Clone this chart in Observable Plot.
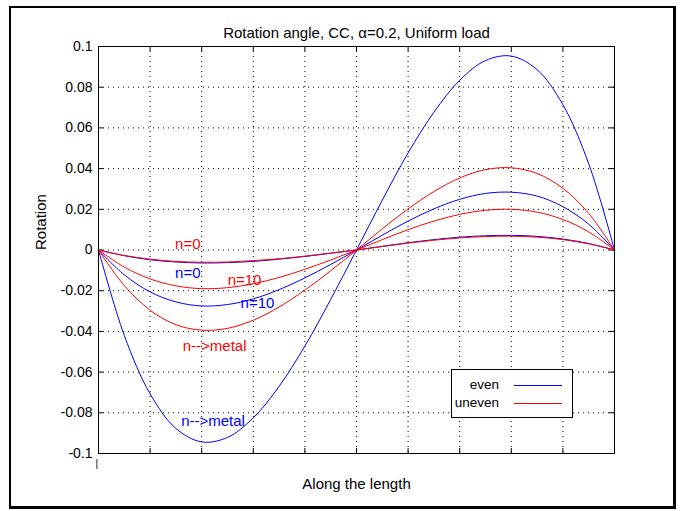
<!DOCTYPE html>
<html>
<head>
<meta charset="utf-8">
<script src="https://cdn.jsdelivr.net/npm/d3@7"></script>
<script src="https://cdn.jsdelivr.net/npm/@observablehq/plot@0.6"></script>
<style>
  body { margin: 0; background: #fff; font-family: "Liberation Sans", Arial, sans-serif; }
  #fig { position: relative; width: 685px; height: 511px; overflow: hidden; background: #fff; }
  #border { position: absolute; left: 9px; top: 6px; width: 662px; height: 498px;
            border-style: solid; border-color: #000; border-width: 2px 3px 3px 2px; }
  .legend { position: absolute; border: 1px solid #000; background: #fff; font-size: 13.5px; color: #000; }
  .legend .lab { position: absolute; right: 73px; transform: translateY(-50%); white-space: nowrap; line-height: 1; }
  .legend .key { position: absolute; display: block; left: 62px; width: 48px; height: 1px; }
</style>
</head>
<body>
<div id="fig"><div id="border"></div></div>
<script>
// Sample positions along the beam (normalised length)
const xs = [0, 0.05, 0.1, 0.15, 0.2, 0.25, 0.3, 0.35, 0.4, 0.45, 0.5,
            0.55, 0.6, 0.65, 0.7, 0.75, 0.8, 0.85, 0.9, 0.95, 1];

// Rotation along the length, even (blue) and uneven (red) porosity
const evenN0 = [0, -0.0028, -0.0048, -0.0059, -0.0064, -0.0062, -0.0056, -0.0045, -0.0032, -0.0016, 0,
                0.0018, 0.0036, 0.0051, 0.0063, 0.0070, 0.0072, 0.0067, 0.0054, 0.0032, 0];
const evenN10 = [0, -0.0122, -0.0206, -0.0255, -0.0275, -0.0268, -0.0240, -0.0195, -0.0137, -0.0071, 0,
                 0.0073, 0.0142, 0.0202, 0.0249, 0.0278, 0.0284, 0.0265, 0.0213, 0.0127, 0];
const evenMetal = [0, -0.0420, -0.0707, -0.0877, -0.0943, -0.0921, -0.0825, -0.0670, -0.0472, -0.0243, 0,
                   0.0245, 0.0477, 0.0677, 0.0834, 0.0931, 0.0953, 0.0886, 0.0714, 0.0424, 0];
const unevenN0 = [0, -0.0027, -0.0045, -0.0056, -0.0060, -0.0059, -0.0052, -0.0043, -0.0030, -0.0015, 0,
                  0.0017, 0.0034, 0.0048, 0.0059, 0.0066, 0.0068, 0.0063, 0.0051, 0.0030, 0];
const unevenN10 = [0, -0.0084, -0.0142, -0.0176, -0.0190, -0.0185, -0.0166, -0.0135, -0.0095, -0.0049, 0,
                   0.0051, 0.0100, 0.0142, 0.0175, 0.0195, 0.0200, 0.0186, 0.0150, 0.0089, 0];
const unevenMetal = [0, -0.0175, -0.0296, -0.0367, -0.0394, -0.0385, -0.0345, -0.0280, -0.0197, -0.0102, 0,
                     0.0104, 0.0202, 0.0287, 0.0354, 0.0395, 0.0404, 0.0376, 0.0303, 0.0180, 0];

// Axis ticks
const xTicks = [0, 0.1, 0.2, 0.3, 0.4, 0.5, 0.6, 0.7, 0.8, 0.9, 1];
const yTicks = [-0.1, -0.08, -0.06, -0.04, -0.02, 0, 0.02, 0.04, 0.06, 0.08, 0.1];

// Legend
const legendNames = ["even", "uneven"];
const legendColors = ["#0000ff", "#ff0000"];

// Curve annotations
const noteText = ["n=0", "n=0", "n=10", "n=10", "n-->metal", "n-->metal"];
const noteX = [0.173, 0.173, 0.283, 0.308, 0.225, 0.222];
const noteY = [0.003, -0.0115, -0.015, -0.0263, -0.0475, -0.084];
const noteColor = ["#ff0000", "#0000ff", "#ff0000", "#0000ff", "#ff0000", "#0000ff"];

const titleText = "Rotation angle, CC, \u03b1=0.2, Uniform load";
const xLabel = "Along the length";
const yLabel = "Rotation";

const series = [
  {values: evenN0, color: legendColors[0]},
  {values: evenN10, color: legendColors[0]},
  {values: evenMetal, color: legendColors[0]},
  {values: unevenN0, color: legendColors[1]},
  {values: unevenN10, color: legendColors[1]},
  {values: unevenMetal, color: legendColors[1]}
];

const W = 685, H = 511;
const mL = 98, mR = 71, mT = 46, mB = 58;
const innerW = W - mL - mR, innerH = H - mT - mB;
const font = "'Liberation Sans', Arial, sans-serif";

const inner = (a) => a.slice(1, -1);
const fmt = (d) => String(+d.toFixed(2));

const chart = Plot.plot({
  width: W, height: H,
  marginLeft: mL, marginRight: mR, marginTop: mT, marginBottom: mB,
  style: {background: "transparent", fontFamily: font, fontSize: "15px", color: "#000", overflow: "visible"},
  x: {domain: [0, 1], axis: null},
  y: {domain: [-0.1, 0.1], axis: null},
  marks: [
    Plot.gridX(inner(xTicks), {stroke: "#000", strokeOpacity: 1, strokeDasharray: "1,4"}),
    Plot.gridY(inner(yTicks), {stroke: "#000", strokeOpacity: 1, strokeDasharray: "1,4"}),
    // inward ticks on all four sides of the box
    Plot.tickX(xTicks, {x: d => d, insetTop: innerH - 5, stroke: "#000"}),
    Plot.tickX(xTicks, {x: d => d, insetBottom: innerH - 5, stroke: "#000"}),
    Plot.tickY(yTicks, {y: d => d, insetRight: innerW - 5, stroke: "#000"}),
    Plot.tickY(yTicks, {y: d => d, insetLeft: innerW - 5, stroke: "#000"}),
    Plot.axisY({ticks: yTicks, label: null, tickSize: 0, tickPadding: 6, tickFormat: fmt,
                fontSize: 14, fontFamily: font, fill: "#000"}),
    ...series.map(s => Plot.line(xs.map((x, i) => ({x, y: s.values[i]})),
      {x: "x", y: "y", stroke: s.color, strokeWidth: 1, curve: "catmull-rom"})),
    ...noteText.map((t, i) => Plot.text([t], {x: () => noteX[i], y: () => noteY[i], text: d => d,
      fill: noteColor[i], fontSize: 15, fontFamily: font})),
    Plot.frame({stroke: "#000"}),
    Plot.text(["|"], {frameAnchor: "bottom-left", dx: -3, dy: 13, fill: "#000", fontSize: 10, fontFamily: font}),
    Plot.text([titleText], {frameAnchor: "top", dy: -19, fill: "#000", fontSize: 15, fontFamily: font}),
    Plot.text([xLabel], {frameAnchor: "bottom", dy: 35, fill: "#000", fontSize: 15, fontFamily: font}),
    Plot.text([yLabel], {frameAnchor: "left", dx: -57, rotate: -90, fill: "#000", fontSize: 15, fontFamily: font})
  ]
});

const fig = document.getElementById("fig");
chart.style.position = "absolute";
chart.style.left = "0px";
chart.style.top = "0px";
fig.appendChild(chart);

// Legend box in the lower right of the axes
const leg = document.createElement("div");
leg.className = "legend";
Object.assign(leg.style, {left: "451px", top: "369px", width: "120px", height: "47px"});
legendNames.forEach((name, i) => {
  const cy = 15 + i * 18;
  const lab = document.createElement("span");
  lab.className = "lab";
  lab.textContent = name;
  lab.style.top = cy + "px";
  leg.appendChild(lab);
  const key = document.createElement("span");
  key.className = "key";
  key.style.top = cy + "px";
  key.style.background = legendColors[i];
  leg.appendChild(key);
});
fig.appendChild(leg);
</script>
</body>
</html>
